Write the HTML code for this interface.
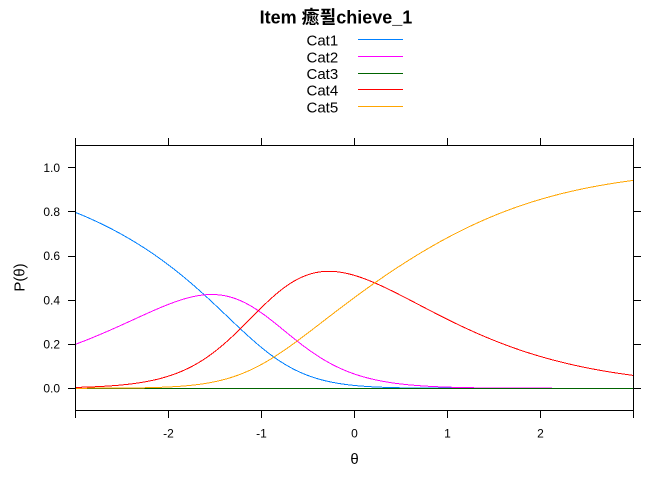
<!DOCTYPE html>
<html>
<head>
<meta charset="utf-8">
<style>
html,body{margin:0;padding:0;background:#fff;}
svg{display:block;}
text{font-family:"Liberation Sans","Noto Sans CJK KR",sans-serif;fill:#000;}
</style>
</head>
<body>
<svg id="s" width="672" height="480" viewBox="0 0 672 480" xmlns="http://www.w3.org/2000/svg">
<rect width="672" height="480" fill="#fff"/>
<!-- title -->
<text x="336" y="23.3" text-anchor="middle" font-size="18" font-weight="bold" style="font-family:'Liberation Sans','Noto Sans CJK KR','Noto Sans CJK SC',sans-serif">Item 癒퓔chieve_1</text>
<!-- legend -->
<g font-size="15">
<text x="306.5" y="45.7">Cat1</text>
<text x="306.5" y="62.3">Cat2</text>
<text x="306.5" y="79">Cat3</text>
<text x="306.5" y="95.7">Cat4</text>
<text x="306.5" y="112.3">Cat5</text>
</g>
<g stroke-width="1" shape-rendering="crispEdges">
<line x1="358" y1="39.5" x2="403" y2="39.5" stroke="#0080ff"/>
<line x1="358" y1="56.5" x2="403" y2="56.5" stroke="#ff00ff"/>
<line x1="358" y1="73.5" x2="403" y2="73.5" stroke="#006400"/>
<line x1="358" y1="89.5" x2="403" y2="89.5" stroke="#ff0000"/>
<line x1="358" y1="106.5" x2="403" y2="106.5" stroke="#ffa500"/>
</g>
<!-- curves -->
<g id="curves" fill="none" stroke-width="1" shape-rendering="crispEdges"></g>
<!-- axes box -->
<g stroke="#000" stroke-width="1" fill="none" shape-rendering="crispEdges">
<rect x="75.5" y="145.5" width="558" height="265"/>
<!-- left ticks -->
<line x1="68" y1="388.5" x2="75" y2="388.5"/>
<line x1="68" y1="344.5" x2="75" y2="344.5"/>
<line x1="68" y1="300.5" x2="75" y2="300.5"/>
<line x1="68" y1="256.5" x2="75" y2="256.5"/>
<line x1="68" y1="211.5" x2="75" y2="211.5"/>
<line x1="68" y1="167.5" x2="75" y2="167.5"/>
<!-- right ticks -->
<line x1="634" y1="388.5" x2="641" y2="388.5"/>
<line x1="634" y1="344.5" x2="641" y2="344.5"/>
<line x1="634" y1="300.5" x2="641" y2="300.5"/>
<line x1="634" y1="256.5" x2="641" y2="256.5"/>
<line x1="634" y1="211.5" x2="641" y2="211.5"/>
<line x1="634" y1="167.5" x2="641" y2="167.5"/>
<!-- bottom ticks -->
<line x1="75.5" y1="411" x2="75.5" y2="418"/>
<line x1="168.5" y1="411" x2="168.5" y2="418"/>
<line x1="261.5" y1="411" x2="261.5" y2="418"/>
<line x1="354.5" y1="411" x2="354.5" y2="418"/>
<line x1="447.5" y1="411" x2="447.5" y2="418"/>
<line x1="540.5" y1="411" x2="540.5" y2="418"/>
<line x1="633.5" y1="411" x2="633.5" y2="418"/>
<!-- top ticks -->
<line x1="75.5" y1="138" x2="75.5" y2="145"/>
<line x1="168.5" y1="138" x2="168.5" y2="145"/>
<line x1="261.5" y1="138" x2="261.5" y2="145"/>
<line x1="354.5" y1="138" x2="354.5" y2="145"/>
<line x1="447.5" y1="138" x2="447.5" y2="145"/>
<line x1="540.5" y1="138" x2="540.5" y2="145"/>
<line x1="633.5" y1="138" x2="633.5" y2="145"/>
</g>
<!-- y tick labels -->
<g font-size="12" text-anchor="end">
<text x="60" y="392.6">0.0</text>
<text x="60" y="348.4">0.2</text>
<text x="60" y="304.3">0.4</text>
<text x="60" y="260.1">0.6</text>
<text x="60" y="216">0.8</text>
<text x="60" y="171.8">1.0</text>
</g>
<!-- x tick labels -->
<g font-size="12" text-anchor="middle">
<text x="168.5" y="437.5">-2</text>
<text x="261.5" y="437.5">-1</text>
<text x="354.5" y="437.5">0</text>
<text x="447.5" y="437.5">1</text>
<text x="540.5" y="437.5">2</text>
</g>
<!-- axis labels -->
<text x="354.5" y="464" font-size="15" text-anchor="middle">θ</text>
<text transform="translate(24.5,277.5) rotate(-90)" font-size="15" text-anchor="middle">P(θ)</text>
</svg>
<script>
(function(){
  var X=function(t){return 354.3+93*t;};
  var Y=function(p){return 388.3-220.8*p;};
  var cols=["#0080ff","#ff00ff","#006400","#ff0000","#ffa500"];
  var pts=[[],[],[],[],[]];
  var N=240;
  for(var i=0;i<=N;i++){
    var t=-3+6*i/N;
    var e=[1,Math.exp(t+1.613),Math.exp(2*t-14),Math.exp(3*t+3.677),Math.exp(4*t+3.457)];
    var s=e[0]+e[1]+e[2]+e[3]+e[4];
    for(var k=0;k<5;k++){pts[k].push(X(t).toFixed(2)+","+Y(e[k]/s).toFixed(2));}
  }
  var g=document.getElementById("curves");
  var ns="http://www.w3.org/2000/svg";
  for(var k=0;k<5;k++){
    var pl=document.createElementNS(ns,"polyline");
    pl.setAttribute("points",pts[k].join(" "));
    pl.setAttribute("stroke",cols[k]);
    g.appendChild(pl);
  }
})();
</script>
</body>
</html>
